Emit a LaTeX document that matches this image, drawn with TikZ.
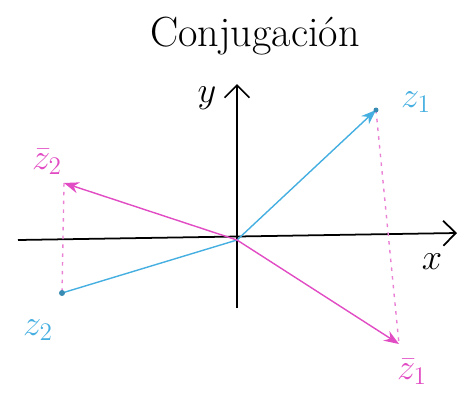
\documentclass[tikz,border=0pt]{standalone}
\usepackage{amsmath}
\usetikzlibrary{arrows.meta}
\definecolor{zcyan}{RGB}{70,175,225}
\definecolor{zmag}{RGB}{225,75,195}

\begin{document}
\begin{tikzpicture}[x=0.02cm, y=-0.02cm, font=\huge,
  ax/.style={-{Straight Barb[length=2.5mm]}, line width=1pt},
  vec/.style={-{Stealth[length=3mm]}, thick},
  proj/.style={dash pattern=on 2pt off 3pt, thick, zmag!70},
  lbl/.style={inner sep=1pt}]
  \useasboundingbox (0,0) rectangle (458,407);
  \node (title) at (255,36) {\fontsize{24}{28}\selectfont Conjugación};
  % axes
  \coordinate (o) at (237,240);
  \coordinate (xl) at (18,240); \coordinate (xr) at (457,233);
  \coordinate (yb) at (237,308); \coordinate (yt) at (237,84);
  \draw[ax] (xl) -- (xr);
  \draw[ax] (yb) -- (yt);
  \node[lbl] (ylab) at (207,98) {$y$};
  \node[lbl] (xlab) at (432,262) {$x$};
  % points
  \coordinate (z1) at (376,110); \coordinate (z2) at (62,293);
  \coordinate (zb1) at (399,344); \coordinate (zb2) at (64,183);
  \draw[proj] (z1) -- (zb1);
  \draw[proj] (zb2) -- (z2);
  \draw[vec, zcyan] (o) -- (z1);
  \draw[thick, zcyan] (o) -- (z2);
  \fill[zcyan!80!black] (z1) circle (2.5) (z2) circle (3);
  \draw[vec, zmag] (o) -- (zb1);
  \draw[vec, zmag] (o) -- (zb2);
  \node[lbl, text=zcyan] (lz1) at (416,102) {$z_1$};
  \node[lbl, text=zcyan] (lz2) at (38,330) {$z_2$};
  \node[lbl, text=zmag] (lzb1) at (412,372) {$\bar z_1$};
  \node[lbl, text=zmag] (lzb2) at (47,162) {$\bar z_2$};
\end{tikzpicture}
\end{document}
